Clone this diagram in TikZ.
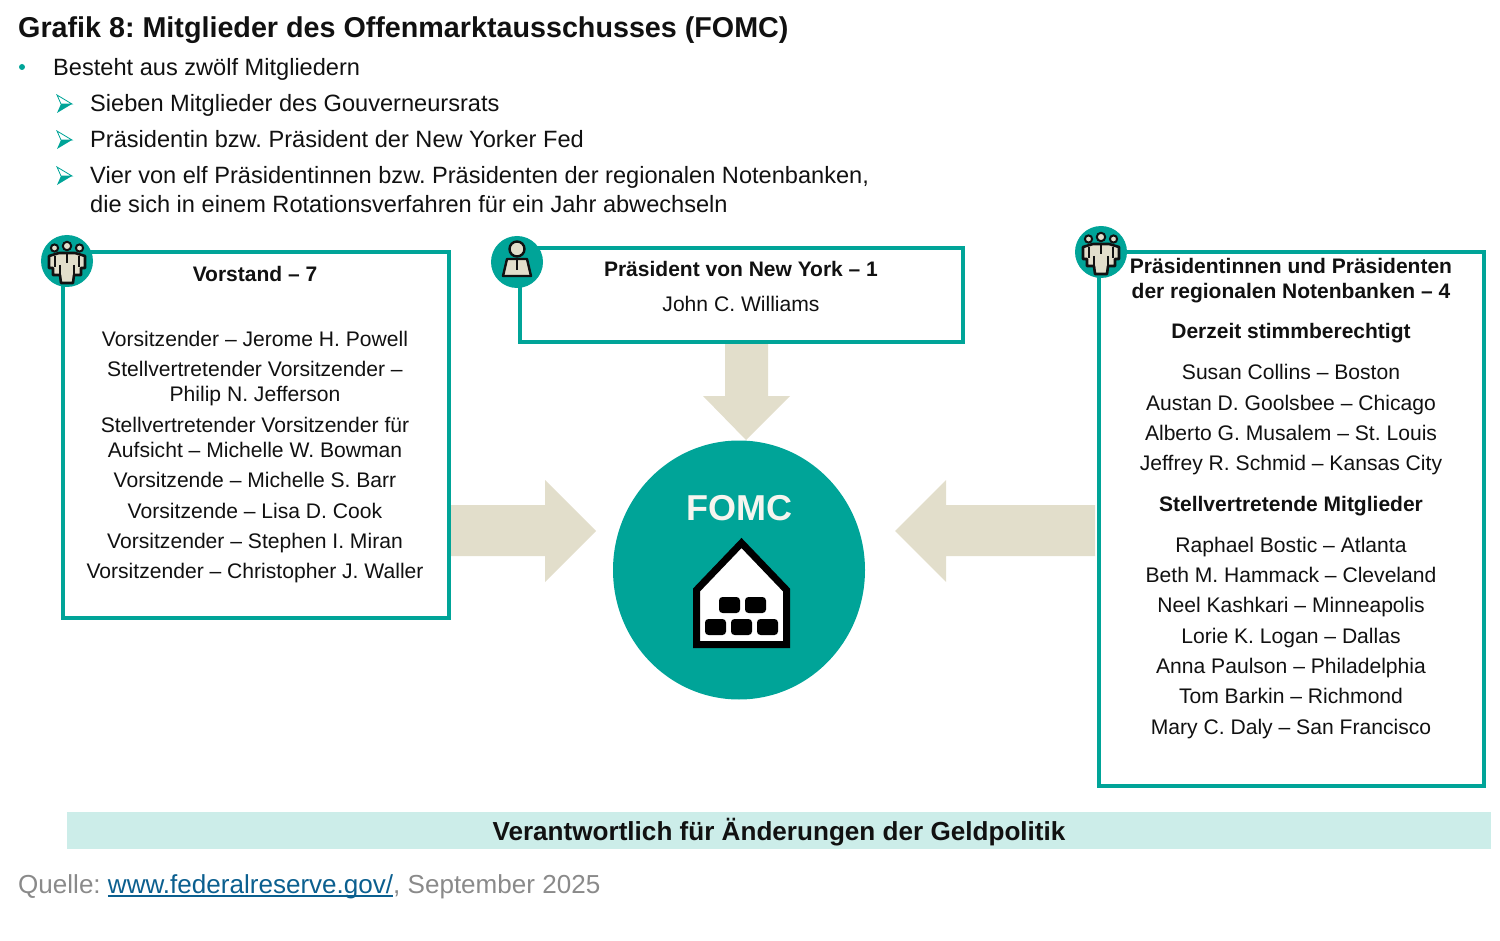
\documentclass[tikz,border=0pt]{standalone}
\usepackage{fontspec}
\setmainfont{Liberation Sans}
\frenchspacing
\definecolor{teal}{HTML}{00A498}
\definecolor{sand}{HTML}{E2DECB}
\definecolor{band}{HTML}{CCEDE9}
\definecolor{lnk}{HTML}{0B5F8F}
\definecolor{gr}{HTML}{8A8A8A}
\definecolor{ink}{HTML}{111111}
\tikzset{
 x=1pt,y=-1pt,
 body/.style={inner sep=0pt,anchor=base,font=\fontsize{21.1}{25}\selectfont,text=ink},
 head/.style={body,font=\fontsize{21}{25}\selectfont\bfseries},
 left/.style={inner sep=0pt,anchor=base west,font=\fontsize{23.6}{29}\selectfont,text=ink},
 frame/.style={draw=teal,line width=4pt,fill=white,inner sep=0pt,outer sep=0pt,anchor=north west},
 blockarrow/.style={fill=sand,draw=none},
}
\newlength{\ulw}
\newcommand{\lnkul}[1]{\settowidth{\ulw}{#1}\textcolor{lnk}{\rlap{\rule[-3.6pt]{\ulw}{1.4pt}}#1}}
\newcommand{\arrowbullet}[2]{%
 \fill[teal] (#1+15,#2) -- (#1,#2+9) -- (#1+4,#2) -- cycle;
 \draw[teal,line width=.8pt,fill=white,line join=miter] (#1+15,#2) -- (#1,#2-9) -- (#1+4,#2) -- cycle;}
\newcommand{\group}[2]{%
 \begin{scope}[shift={(#1,#2)}]
 \fill[teal] (0,0) circle (26);
 \foreach \dx/\dy/\r in {-12.5/-13/3.6,12.5/-13/3.6,0/-15/4.2}
   \draw[ink,line width=2pt,fill=sand] (\dx,\dy) circle (\r);
 \draw[ink,line width=2.6pt,fill=sand,line join=round]
  (-18,-5) -- (-8,-8) -- (8,-8) -- (18,-5) -- (18,7) -- (14,7) -- (14,14) -- (7,14) -- (6,22) -- (-6,22) -- (-7,14) -- (-14,14) -- (-14,7) -- (-18,7) -- cycle;
 \draw[ink,line width=1.6pt] (0,-8) -- (0,2) (-12,-5) -- (-12,6) (12,-5) -- (12,6) (-7,4) -- (-7,14) (7,4) -- (7,14);
 \end{scope}}
\begin{document}
\begin{tikzpicture}
\useasboundingbox (0,0) rectangle (1500,941);
\node[left,font=\fontsize{28.7}{32}\selectfont\bfseries] (title) at (18,37.5) {Grafik 8: Mitglieder des Offenmarktausschusses (FOMC)};
\fill[teal] (22,67) circle (3);
\node[left] (l1) at (53,75.5) {Besteht aus zwölf Mitgliedern};
\arrowbullet{57}{104}
\node[left] (l2) at (90,112) {Sieben Mitglieder des Gouverneursrats};
\arrowbullet{57}{140}
\node[left] (l3) at (90,148) {Präsidentin bzw. Präsident der New Yorker Fed};
\arrowbullet{57}{176}
\node[left] (l4) at (90,184) {Vier von elf Präsidentinnen bzw. Präsidenten der regionalen Notenbanken,};
\node[left] (l5) at (90,212.5) {die sich in einem Rotationsverfahren für ein Jahr abwechseln};
% block arrows
\fill[blockarrow] (451,505) -- (545,505) -- (545,480) -- (596,531) -- (545,582) -- (545,556) -- (451,556) -- cycle;
\fill[blockarrow] (1095,505) -- (946,505) -- (946,480) -- (895,531) -- (946,582) -- (946,556) -- (1095,556) -- cycle;
\fill[blockarrow] (725,344) -- (768,344) -- (768,396) -- (790,396) -- (746,440) -- (703,396) -- (725,396) -- cycle;
% boxes
\node[frame,minimum width=386.5pt,minimum height=365pt] (vbox) at (62.5,252.5) {};
\node[frame,minimum width=443pt,minimum height=94pt] (nbox) at (520,248) {};
\node[frame,minimum width=385.5pt,minimum height=533pt] (rbox) at (1098.5,252.5) {};
\group{67}{261}
\group{1101}{252}
\begin{scope}[shift={(517,262)}]
 \fill[teal] (0,0) circle (26);
 \draw[ink,line width=2.4pt,fill=sand] (0,-13) circle (7.5);
 \draw[ink,line width=2.4pt,fill=sand,line join=round] (-10,-3) -- (10,-3) -- (14,14) -- (-14,14) -- cycle;
 \draw[ink,line width=1.4pt] (0,-3) -- (0,8);
\end{scope}
% left box
\node[head] (v0) at (255,282) {Vorstand – 7};
\node[body] (v1) at (255,346.5) {Vorsitzender – Jerome H. Powell};
\node[body] (v2) at (255,376.5) {Stellvertretender Vorsitzender –};
\node[body] (v3) at (255,401.5) {Philip N. Jefferson};
\node[body] (v4) at (255,432) {Stellvertretender Vorsitzender für};
\node[body] (v5) at (255,457) {Aufsicht – Michelle W. Bowman};
\node[body] (v6) at (255,487) {Vorsitzende – Michelle S. Barr};
\node[body] (v7) at (255,518) {Vorsitzende – Lisa D. Cook};
\node[body] (v8) at (255,548) {Vorsitzender – Stephen I. Miran};
\node[body] (v9) at (255,578.5) {Vorsitzender – Christopher J. Waller};
% middle box
\node[head] (n0) at (741,276.5) {Präsident von New York – 1};
\node[body] (n1) at (741,311.5) {John C. Williams};
% right box
\node[head] (r0) at (1291,273.5) {Präsidentinnen und Präsidenten};
\node[head] (r1) at (1291,298.5) {der regionalen Notenbanken – 4};
\node[head] (r2) at (1291,339) {Derzeit stimmberechtigt};
\node[body] (r3) at (1291,380) {Susan Collins – Boston};
\node[body] (r4) at (1291,410) {Austan D. Goolsbee – Chicago};
\node[body] (r5) at (1291,440) {Alberto G. Musalem – St. Louis};
\node[body] (r6) at (1291,470) {Jeffrey R. Schmid – Kansas City};
\node[head] (r7) at (1291,511.5) {Stellvertretende Mitglieder};
\node[body] (r8) at (1291,552) {Raphael Bostic – Atlanta};
\node[body] (r9) at (1291,582) {Beth M. Hammack – Cleveland};
\node[body] (r10) at (1291,612) {Neel Kashkari – Minneapolis};
\node[body] (r11) at (1291,643) {Lorie K. Logan – Dallas};
\node[body] (r12) at (1291,673) {Anna Paulson – Philadelphia};
\node[body] (r13) at (1291,703.5) {Tom Barkin – Richmond};
\node[body] (r14) at (1291,734) {Mary C. Daly – San Francisco};
% FOMC
\fill[teal] (739,570) ellipse (126 and 129.5);
\node[inner sep=0pt,anchor=base,text=sand!30!white,font=\fontsize{36}{40}\selectfont\bfseries] (fomc) at (739,520) {FOMC};
\draw[black,line width=7pt,fill=white,miter limit=10] (741.5,543) -- (786.5,590) -- (786.5,644.5) -- (696.5,644.5) -- (696.5,590) -- cycle;
\foreach \bx/\by in {719/597,745/597,705/619,731/619,757/619}
  \fill[black,rounded corners=3.5pt] (\bx,\by) rectangle ++(21,16);
% band
\fill[band] (67,812) rectangle (1491,849);
\node[inner sep=0pt,anchor=base,font=\fontsize{26.1}{30}\selectfont\bfseries,text=ink] (resp) at (779,840.5) {Verantwortlich für Änderungen der Geldpolitik};
\node[left,text=gr,font=\fontsize{26.05}{30}\selectfont] (src) at (18,893) {Quelle: \lnkul{www.federalreserve.gov/}, September 2025};
\end{tikzpicture}
\end{document}
